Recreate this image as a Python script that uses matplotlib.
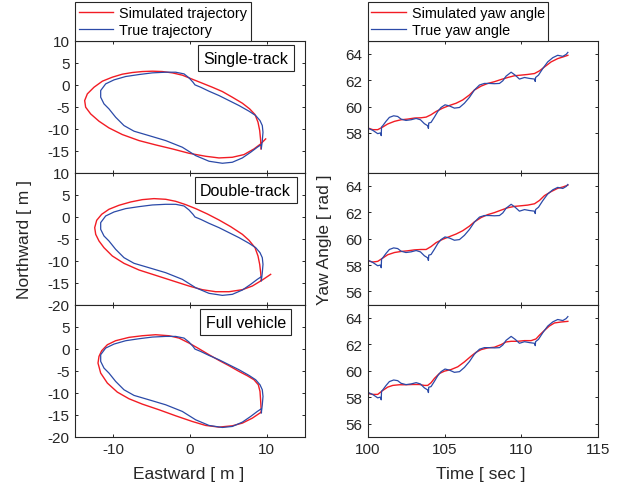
import matplotlib
matplotlib.use('Agg')
import matplotlib.pyplot as plt

plt.rcParams['font.family'] = ['Liberation Sans', 'DejaVu Sans']
plt.rcParams['axes.unicode_minus'] = False

# ---------------- trajectory data ----------------
true_east = [9.30, 9.43, 9.52, 9.43, 9.13, 8.57, 7.70, 6.39, 5.09, 3.78, 2.48, 1.39, 0.65, 0.39,
             -0.13, -0.78, -1.87, -3.17, -4.91, -6.65, -8.39, -9.91, -11.0, -11.65, -11.65, -11.22,
             -10.57, -9.70, -8.61, -7.30, -5.35, -3.17, -1.0, 0.74, 2.48, 4.22, 5.52, 6.83, 7.91,
             8.78, 9.30]
true_north = [-14.6, -12.73, -10.83, -9.32, -8.18, -7.05, -6.06, -4.77, -3.64, -2.5, -1.52, -0.61,
              -0.08, 0.53, 1.52, 2.42, 2.80, 2.80, 2.65, 2.27, 1.82, 1.06, 0.15, -1.36, -2.88, -4.39,
              -5.53, -7.42, -9.32, -10.6, -11.6, -12.73, -14.24, -16.14, -17.42, -17.88, -17.65,
              -16.67, -15.38, -14.24, -13.64]

sim_single_east = [9.26, 9.22, 9.09, 8.87, 8.48, 7.78, 6.83, 5.52, 4.22, 2.91, 1.61, 0.30, -0.99,
                   -2.30, -3.61, -4.91, -6.22, -7.52, -8.83, -10.13, -11.43, -12.52, -13.39, -13.74,
                   -13.61, -12.96, -11.87, -10.57, -8.83, -6.65, -4.48, -2.30, -0.13, 2.04, 3.78,
                   5.52, 7.04, 8.35, 9.22, 9.87]
sim_single_north = [-14.62, -12.73, -10.45, -8.56, -6.82, -5.53, -4.24, -2.88, -1.59, -0.61, 0.30,
                    1.21, 2.12, 2.65, 2.95, 3.03, 2.95, 2.73, 2.35, 1.67, 0.76, -0.61, -2.12, -3.64,
                    -5.15, -6.67, -8.33, -9.85, -11.36, -12.73, -13.71, -14.62, -15.61, -16.29,
                    -16.67, -16.52, -15.91, -14.62, -13.48, -12.35]

sim_double_east = [9.30, 9.22, 9.09, 8.87, 8.48, 7.70, 6.83, 5.30, 3.78, 2.26, 0.74, -0.57, -1.87,
                   -3.17, -4.70, -6.22, -7.74, -9.26, -10.57, -11.52, -12.17, -12.43, -12.30,
                   -11.87, -11.22, -10.13, -8.61, -6.65, -4.48, -2.30, -0.13, 1.61, 3.35, 5.09,
                   6.83, 8.13, 9.43, 10.52]
sim_double_north = [-14.39, -12.73, -10.83, -8.94, -7.05, -5.38, -4.02, -2.27, -0.76, 0.61, 1.82,
                    2.73, 3.48, 3.94, 4.09, 3.86, 3.33, 2.58, 1.67, 0.53, -0.83, -2.5, -4.02, -5.53,
                    -7.05, -8.94, -10.61, -12.12, -13.33, -14.55, -15.76, -16.59, -17.05, -17.05,
                    -16.59, -15.76, -14.39, -13.11]

sim_full_east = [9.30, 8.13, 6.83, 5.52, 3.78, 2.04, 0.30, -1.87, -4.04, -6.22, -7.96, -9.48,
                 -10.78, -11.65, -12.0, -11.87, -11.52, -10.78, -9.70, -7.96, -6.22, -4.48, -2.74,
                 -1.43, -0.13, 1.17, 2.48, 3.78, 5.09, 6.39, 7.48, 8.35, 8.91, 9.13, 9.22, 9.30]
sim_full_north = [-14.39, -15.76, -16.89, -17.50, -17.80, -17.42, -16.52, -15.23, -13.86, -12.58,
                  -11.36, -9.85, -7.80, -5.53, -3.26, -1.74, -0.45, 0.91, 1.82, 2.58, 2.95, 3.18,
                  2.95, 2.42, 1.29, 0.0, -1.36, -2.65, -3.86, -5.15, -6.14, -7.05, -8.18, -9.70,
                  -11.97, -14.39]

# ---------------- yaw data ----------------
time_true = [100.0, 100.33, 100.65, 100.82, 100.88, 100.90, 100.98, 101.19, 101.41, 101.69, 101.95,
             102.17, 102.49, 102.82, 103.15, 103.43, 103.69, 103.90, 103.95, 103.97, 104.12, 104.34,
             104.56, 104.77, 105.03, 105.31, 105.64, 105.97, 106.29, 106.62, 106.94, 107.27,
             107.59, 107.92, 108.24, 108.57, 108.79, 109.0, 109.33, 109.59, 109.87, 110.20,
             110.52, 110.85, 110.90, 110.92, 111.11, 111.39, 111.71, 112.04, 112.36, 112.69,
             112.91, 113.02]
yaw_true = [58.375, 58.2, 57.95, 58.0, 57.8, 58.45, 58.55, 58.88, 59.18, 59.3, 59.25, 59.05, 58.95,
            59.0, 59.1, 59.0, 58.7, 58.55, 58.35, 58.75, 58.8, 59.2, 59.63, 59.93, 60.13, 60.05,
            59.88, 59.93, 60.25, 60.7, 61.25, 61.63, 61.75, 61.75, 61.73, 61.75, 61.95, 62.3, 62.6,
            62.38, 62.08, 62.2, 62.13, 62.08, 61.9, 62.2, 62.38, 62.88, 63.38, 63.7, 63.88, 63.8,
            63.95, 64.1]

time_sim = [100.0, 100.33, 100.65, 100.98, 101.30, 101.74, 102.17, 102.60, 103.04, 103.47, 103.80,
            104.12, 104.45, 104.88, 105.31, 105.75, 106.18, 106.62, 106.94, 107.38, 107.81,
            108.24, 108.68, 109.11, 109.54, 109.98, 110.41, 110.85, 111.17, 111.50, 111.93,
            112.36, 112.69, 113.02]
yaw_sim_single = [58.38, 58.25, 58.25, 58.45, 58.68, 58.88, 59.0, 59.05, 59.13, 59.15, 59.2,
                  59.38, 59.63, 59.88, 60.08, 60.25, 60.5, 60.88, 61.25, 61.55, 61.75, 61.88,
                  62.05, 62.2, 62.33, 62.38, 62.43, 62.5, 62.7, 63.0, 63.38, 63.63, 63.75, 63.88]
yaw_sim_double = [58.33, 58.23, 58.28, 58.53, 58.78, 58.95, 59.03, 59.08, 59.15, 59.18, 59.18,
                  59.40, 59.70, 59.95, 60.15, 60.35, 60.6, 60.95, 61.27, 61.6, 61.82, 61.97,
                  62.16, 62.34, 62.44, 62.49, 62.54, 62.64, 62.89, 63.26, 63.56, 63.81, 63.91, 64.05]

time_sim_full = [100.0, 100.33, 100.65, 100.98, 101.30, 101.63, 102.06, 102.49, 102.93, 103.36,
                 103.69, 103.90, 104.12, 104.34, 104.66, 104.99, 105.42, 105.86, 106.29, 106.72,
                 107.05, 107.38, 107.81, 108.24, 108.68, 109.0, 109.33, 109.76, 110.20, 110.63,
                 110.95, 111.17, 111.50, 111.82, 112.15, 112.58, 113.02]
yaw_sim_full = [58.28, 58.21, 58.21, 58.51, 58.76, 58.89, 58.94, 58.94, 58.96, 58.96, 58.89, 58.89,
                59.09, 59.42, 59.79, 59.97, 60.09, 60.30, 60.67, 61.10, 61.40, 61.60, 61.73, 61.78,
                61.98, 62.18, 62.23, 62.23, 62.28, 62.28, 62.41, 62.69, 63.06, 63.39, 63.62, 63.69,
                63.74]

model_names = ['Single-track', 'Double-track', 'Full vehicle']
traj_ticks = [10, 5, 0, -5, -10, -15, -20]
yaw_ticks_top = [58, 60, 62, 64]
yaw_ticks = [56, 58, 60, 62, 64]
time_ticks = [100, 105, 110, 115]
east_ticks = [-10, 0, 10]

RED = '#f21c24'
BLUE = '#2b4aa8'
TXT = '#262626'

W, H = 629, 489
fig = plt.figure(figsize=(W / 100, H / 100), dpi=100)

row_h = 132.1
top0 = 41.5
lx, lw = 75 / W, 230 / W
rx, rw = 367.7 / W, 230.6 / W

sims_traj = [(sim_single_east, sim_single_north), (sim_double_east, sim_double_north),
             (sim_full_east, sim_full_north)]
sims_yaw = [(time_sim, yaw_sim_single), (time_sim, yaw_sim_double), (time_sim_full, yaw_sim_full)]


def style(ax):
    ax.tick_params(direction='in', length=2.5, width=0.7, top=True, right=True,
                   labelsize=11, colors=TXT, pad=4)
    for s in ax.spines.values():
        s.set_color(TXT)
        s.set_linewidth(0.8)


for i in range(3):
    b = 1 - (top0 + (i + 1) * row_h) / H
    hh = row_h / H
    # trajectory
    ax = fig.add_axes([lx, b, lw, hh])
    style(ax)
    se, sn = sims_traj[i]
    l1, = ax.plot(se, sn, color=RED, lw=1.0, label='Simulated trajectory')
    l2, = ax.plot(true_east, true_north, color=BLUE, lw=0.9, label='True trajectory')
    ax.set_xlim(-15, 15)
    ax.set_ylim(-20, 10)
    ax.set_xticks(east_ticks)
    ax.set_yticks(traj_ticks)
    labels = [str(t) for t in traj_ticks]
    if i == 0:
        labels[-1] = ''
    if i == 2:
        labels[0] = ''
    ax.set_yticklabels(labels)
    if i < 2:
        ax.set_xticklabels([])
    ax.text(0.742, 0.866, model_names[i], transform=ax.transAxes, ha='center', va='center',
            fontsize=11.5, color='black',
            bbox=dict(boxstyle='square,pad=0.35', fc='white', ec=TXT, lw=0.8))
    if i == 0:
        leg = ax.legend(handles=[l1, l2], loc='lower left', bbox_to_anchor=(0, 1),
                        borderaxespad=0, fontsize=10.4, handlelength=2.4, handletextpad=0.4,
                        labelspacing=0.2, borderpad=0.25, fancybox=False, framealpha=1,
                        edgecolor=TXT)
        leg.get_frame().set_linewidth(0.8)

    # yaw
    ax2 = fig.add_axes([rx, b, rw, hh])
    style(ax2)
    ts, ys = sims_yaw[i]
    r1, = ax2.plot(ts, ys, color=RED, lw=1.0, label='Simulated yaw angle')
    r2, = ax2.plot(time_true, yaw_true, color=BLUE, lw=0.9, label='True yaw angle')
    ax2.set_xlim(100, 115)
    ax2.set_ylim(55, 65)
    ax2.set_xticks(time_ticks)
    ax2.set_yticks(yaw_ticks_top if i == 0 else yaw_ticks)
    if i < 2:
        ax2.set_xticklabels([])
    if i == 0:
        leg2 = ax2.legend(handles=[r1, r2], loc='lower left', bbox_to_anchor=(0, 1),
                          borderaxespad=0, fontsize=10.4, handlelength=2.4, handletextpad=0.4,
                          labelspacing=0.2, borderpad=0.25, fancybox=False, framealpha=1,
                          edgecolor=TXT)
        leg2.get_frame().set_linewidth(0.8)

fig.text(25 / W, 1 - 239.6 / H, 'Northward [ m ]', rotation=90, ha='center', va='center',
         fontsize=12.5, color=TXT)
fig.text(325 / W, 1 - 239.6 / H, 'Yaw Angle [ rad ]', rotation=90, ha='center', va='center',
         fontsize=12.5, color=TXT)
fig.text(189 / W, 1 - 475 / H, 'Eastward [ m ]', ha='center', va='center', fontsize=12.5,
         color=TXT)
fig.text(481 / W, 1 - 475 / H, 'Time [ sec ]', ha='center', va='center', fontsize=12.5,
         color=TXT)

fig.savefig('out.png', dpi=100)
